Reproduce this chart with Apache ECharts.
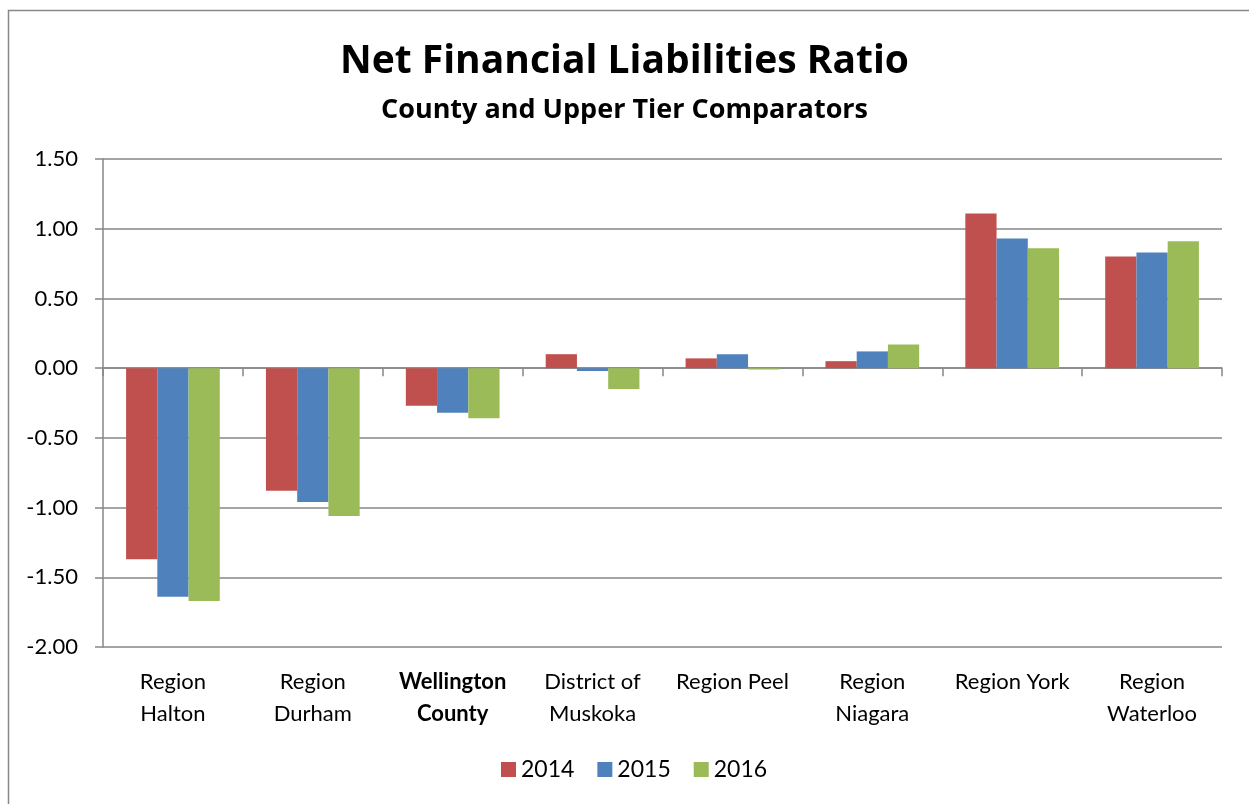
<!DOCTYPE html>
<html>
<head>
<meta charset="utf-8">
<script src="https://cdn.jsdelivr.net/npm/echarts@6/dist/echarts.min.js"></script>
<style>
html,body{margin:0;padding:0;background:#fff;}
#chart{width:1249px;height:804px;}
</style>
</head>
<body>
<div id="chart"></div>
<script>
var categories = ["Region\nHalton", "Region\nDurham", "Wellington\nCounty", "District of\nMuskoka", "Region Peel", "Region\nNiagara", "Region York", "Region\nWaterloo"];
var boldCategory = "Wellington\nCounty";
var seriesNames = ["2014", "2015", "2016"];
var values2014 = [-1.37, -0.88, -0.27, 0.10, 0.07, 0.05, 1.11, 0.80];
var values2015 = [-1.64, -0.96, -0.32, -0.02, 0.10, 0.12, 0.93, 0.83];
var values2016 = [-1.67, -1.06, -0.36, -0.15, -0.01, 0.17, 0.86, 0.91];
var yMin = -2.0, yMax = 1.5, yStep = 0.5;
var titleText = "Net Financial Liabilities Ratio";
var subtitleText = "County and Upper Tier Comparators";

var FONT = "Lato, 'Open Sans', sans-serif";
var TFONT = "'Open Sans', Lato, sans-serif";
var GRID = "#878787";
var colors = ["#C0504D", "#4F81BD", "#9BBB59"];
var allValues = [values2014, values2015, values2016];

var chart = echarts.init(document.getElementById('chart'), null, {renderer: 'canvas'});
var option = {
  animation: false,
  backgroundColor: '#fff',
  textStyle: {fontFamily: FONT},
  graphic: [{
    type: 'rect', left: 6, top: 8, silent: true,
    shape: {x: 0, y: 0, width: 1300, height: 900},
    style: {fill: 'none', stroke: '#888', lineWidth: 1.5}
  }],
  title: [
    {text: titleText, left: 'center', top: 37,
     textStyle: {fontFamily: TFONT, fontWeight: 'bold', fontSize: 39, color: '#000'}},
    {text: subtitleText, left: 'center', top: 92,
     textStyle: {fontFamily: TFONT, fontWeight: 'bold', fontSize: 27, color: '#000'}}
  ],
  legend: {
    data: seriesNames, bottom: 18, left: 496, icon: 'rect',
    itemWidth: 15, itemHeight: 15, itemGap: 23,
    textStyle: {fontFamily: FONT, fontSize: 23, color: '#000'}
  },
  grid: {left: 103, right: 27, top: 159, bottom: 157, containLabel: false},
  xAxis: [
    {type: 'category', data: categories, position: 'bottom',
     axisLine: {onZero: true, lineStyle: {color: GRID, width: 1.5}},
     axisTick: {show: true, length: 8, inside: false, lineStyle: {color: GRID, width: 1.5}},
     axisLabel: {show: false}, splitLine: {show: false}},
    {type: 'category', data: categories, position: 'bottom', offset: 0,
     axisLine: {show: false, onZero: false}, axisTick: {show: false},
     axisLabel: {show: true, margin: 19, interval: 0, fontFamily: FONT, fontSize: 22, color: '#000', lineHeight: 32,
       formatter: function (v) { return v === boldCategory ? '{b|' + v.replace('\n', '}\n{b|') + '}' : v; },
       rich: {b: {fontWeight: 'bold', fontSize: 22, fontFamily: FONT, color: '#000', lineHeight: 32}}},
     splitLine: {show: false}}
  ],
  yAxis: {
    type: 'value', min: yMin, max: yMax, interval: yStep,
    axisLine: {show: true, lineStyle: {color: GRID, width: 1.5}},
    axisTick: {show: true, length: 8, lineStyle: {color: GRID, width: 1.5}},
    axisLabel: {margin: 25, fontFamily: FONT, fontSize: 22, color: '#000',
      formatter: function (v) { return v.toFixed(2); }},
    splitLine: {show: true, lineStyle: {color: GRID, width: 1.5}}
  },
  series: seriesNames.map(function (n, i) {
    return {
      name: n, type: 'bar', xAxisIndex: 0, data: allValues[i],
      barGap: '0%', barCategoryGap: '33%',
      itemStyle: {color: colors[i]}
    };
  })
};
chart.setOption(option);
</script>
</body>
</html>
